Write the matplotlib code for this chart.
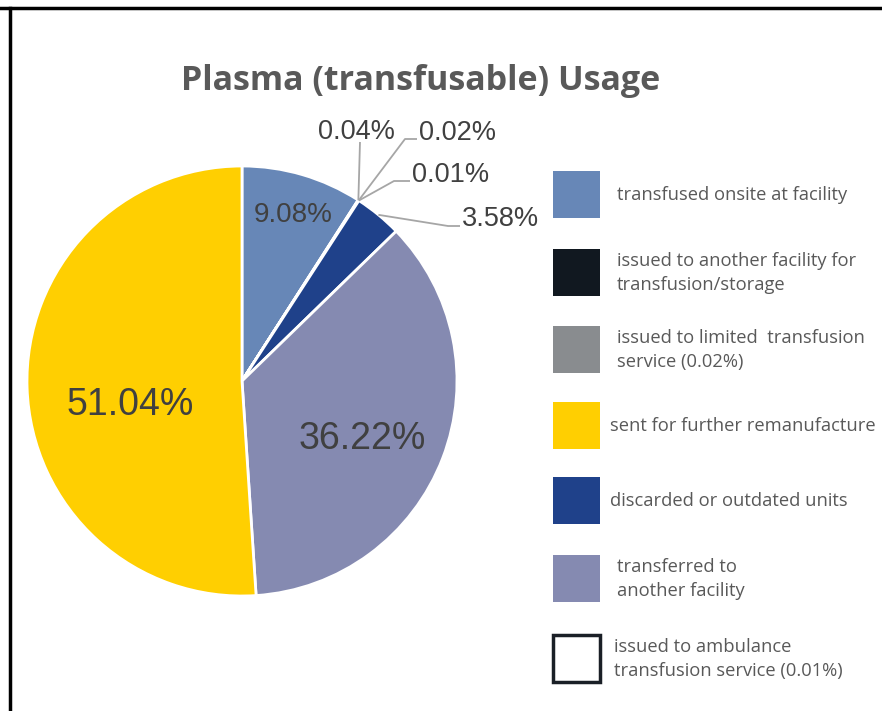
import numpy as np
import matplotlib.pyplot as plt
from matplotlib.patches import Rectangle
from matplotlib.lines import Line2D

# categories in legend order
categories = ['transfused onsite at facility',
              'issued to another facility for\ntransfusion/storage',
              'issued to limited  transfusion\nservice (0.02%)',
              'sent for further remanufacture',
              'discarded or outdated units',
              'transferred to\nanother facility',
              'issued to ambulance\ntransfusion service (0.01%)']
values = [9.08, 0.04, 0.02, 51.04, 3.58, 36.22, 0.01]
colors = ['#6787b7', '#111820', '#898c8f', '#ffcf01', '#1f418a', '#858ab1', '#ffffff']
# order of the slices clockwise from 12 o'clock
pie_order = [0, 1, 2, 6, 4, 5, 3]

W, H = 882, 711
fig = plt.figure(figsize=(W / 100, H / 100), dpi=100)
ax = fig.add_axes([0, 0, 1, 1])

def Y(y):
    return H - y

cx, cy, R = 242, 381, 215
pv = [values[i] for i in pie_order]
pc = [colors[i] for i in pie_order]
wedges, _ = ax.pie(pv, colors=pc, startangle=90, counterclock=False,
                   center=(cx, Y(cy)), radius=R,
                   wedgeprops=dict(edgecolor='white', linewidth=2))

ax.set_xlim(0, W)
ax.set_ylim(0, H)
ax.set_aspect('equal')
ax.axis('off')

lab_font = 'Liberation Sans'
lab_col = '#404040'

# big labels inside slices
inside = {0: (293, 215, 20), 3: (130, 405, 27), 5: (362, 439, 27)}
for i, (x, y, fs) in inside.items():
    ax.text(x, Y(y), f'{values[i]:.2f}%', ha='center', va='center',
            fontsize=fs, color=lab_col, family=lab_font)

def edge_point(i, frac=1.0):
    w = wedges[pie_order.index(i)]
    th = np.deg2rad((w.theta1 + w.theta2) / 2)
    return cx + R * frac * np.cos(th), Y(cy) + R * frac * np.sin(th)

# leader lines for the small slices: (elbow, end, label xy, ha)
leaders = {
    1: ((360, 142), None, (356, 132), 'center'),
    2: ((405, 139), (417, 139), (419, 133), 'left'),
    6: ((394, 181), (410, 181), (412, 175), 'left'),
    4: ((448, 226), (460, 226), (462, 219), 'left'),
}
for i, (elb, end, lxy, ha) in leaders.items():
    sx, sy = edge_point(i, 1.0)
    xs = [sx, elb[0]]
    ys = [sy, Y(elb[1])]
    if end is not None:
        xs.append(end[0])
        ys.append(Y(end[1]))
    ax.plot(xs, ys, color='#a6a6a6', lw=1.3, solid_capstyle='butt')
    ax.text(lxy[0], Y(lxy[1]), f'{values[i]:.2f}%', ha=ha, va='center',
            fontsize=19.5, color=lab_col, family=lab_font)

# title
ax.text(421, Y(81), 'Plasma (transfusable) Usage', ha='center', va='center',
        fontsize=24.5, fontweight='bold', color='#595959', family='Open Sans')

# legend drawn by hand
row_y = [195, 273, 350, 426, 501, 579, 659]
text_x = [617, 617, 617, 610, 610, 617, 614]
for i, lab in enumerate(categories):
    y = row_y[i]
    ec = '#1a1f26' if colors[i] == '#ffffff' else 'none'
    ax.add_patch(Rectangle((553, Y(y + 23)), 47, 47, facecolor=colors[i],
                           edgecolor=ec, lw=2.5))
    ax.text(text_x[i], Y(y), lab, ha='left', va='center', fontsize=13.2,
            color='#595959', family='Open Sans', linespacing=1.38)

# frame lines (top and left)
fig.add_artist(Line2D([0, 1], [1 - 8 / H, 1 - 8 / H], color='black', lw=2.5,
                      transform=fig.transFigure))
fig.add_artist(Line2D([10 / W, 10 / W], [0, 1 - 8 / H], color='black', lw=2.5,
                      transform=fig.transFigure))

fig.savefig('out.png', dpi=100, facecolor='white')
